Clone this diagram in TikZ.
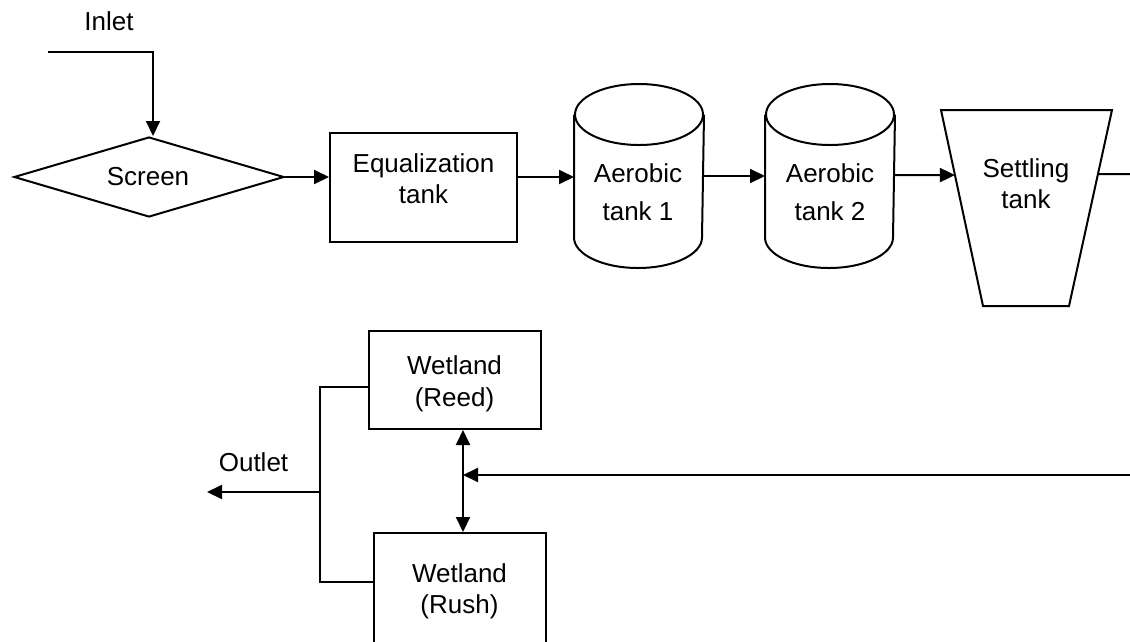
\documentclass[tikz,border=0pt]{standalone}
\usepackage{fontspec}
\setmainfont{Liberation Sans}
\usetikzlibrary{arrows.meta,calc,shapes.geometric}
\begin{document}
\begin{tikzpicture}[x=1pt,y=-1pt,
  line width=2pt,
  tip/.tip={Triangle[length=15pt,width=14pt]},
  flow/.style={-tip},
  both/.style={tip-tip},
  box/.style={draw, rectangle, inner sep=0pt},
  lbl/.style={anchor=base, inner sep=0pt, font=\fontsize{26}{31}\selectfont},
  ]
\path[use as bounding box, clip] (0,0) rectangle (1130,641);

% flow rows
\coordinate (rowA) at (0,177);
\coordinate (rowB) at (0,176);
\coordinate (rowC) at (0,175);

% inlet and screen
\node[lbl] (inlet) at (109,30) {Inlet};
\coordinate (feed) at (48,52);
\node[draw, diamond, aspect=3.4, inner sep=0pt, minimum width=270pt, minimum height=80pt] (scr) at (149,177) {};
\node[lbl] (scrt) at (148,185) {Screen};

% equalization tank
\node[box, minimum width=187pt, minimum height=109pt] (eq) at (423.5,187.5) {};
\node[lbl] (eq1) at (423.5,172) {Equalization};
\node[lbl] (eq2) at (423.5,203) {tank};

% aerobic tanks (cylinders)
\node[inner sep=0pt, minimum width=128pt, minimum height=182pt] (ae1) at (639,176) {};
\node[inner sep=0pt, minimum width=128pt, minimum height=182pt] (ae2) at (830,176) {};
\foreach \c in {ae1,ae2} {
  \draw ($(\c.north west)+(0,30.5)$) -- ($(\c.south west)-(0,30.5)$)
        arc[start angle=180, end angle=360, x radius=64pt, y radius=30.5pt]
        -- ($(\c.north east)+(0,30.5)$);
  \draw ($(\c.north)+(0,30.5)$) ellipse[x radius=64pt, y radius=30.5pt];
}
\node[lbl] (ae1a) at (638,182) {Aerobic};
\node[lbl] (ae1b) at (638,220) {tank 1};
\node[lbl] (ae2a) at (830,182) {Aerobic};
\node[lbl] (ae2b) at (830,220) {tank 2};

% settling tank (inverted trapezoid)
\coordinate (stTL) at (941,110);
\coordinate (stTR) at (1112,110);
\coordinate (stBR) at (1069,306);
\coordinate (stBL) at (983,306);
\draw (stTL) -- (stTR) -- (stBR) -- (stBL) -- cycle;
\coordinate (stIn) at ($(stTL)!0.332!(stBL)$);
\coordinate (stOut) at ($(stTR)!0.327!(stBR)$);
\node[lbl] (st1) at (1026,177) {Settling};
\node[lbl] (st2) at (1026,208) {tank};

% wetlands
\node[box, minimum width=172pt, minimum height=98pt] (reed) at (455,380) {};
\node[lbl] (reed1) at (454.5,374) {Wetland};
\node[lbl] (reed2) at (454.5,406) {(Reed)};
\node[box, minimum width=172pt, minimum height=130pt] (rush) at (460,598) {};
\node[lbl] (rush1) at (459.5,582) {Wetland};
\node[lbl] (rush2) at (459.5,613) {(Rush)};

% upper line connectors
\draw[flow] (feed) -| ([xshift=4pt]scr.north);
\draw[flow] (scr.east) -- (eq.west |- rowA);
\draw[flow] (eq.east |- rowA) -- (ae1.west |- rowA);
\draw[flow] (ae1.east |- rowB) -- (ae2.west |- rowB);
\draw[flow] (ae2.east |- rowC) -- (stIn);
\coordinate (toWet) at (1140,174);
\draw (stOut) -- (toWet);

% return to wetlands
\coordinate (retIn) at (1140,475);
\coordinate (split) at (463,475);
\draw[flow] (retIn) -- (split);
\draw[both] (reed.south -| split) -- (rush.north -| split);

% outlet collector
\coordinate (o1) at (320,387);
\coordinate (o2) at (320,582);
\coordinate (o3) at (320,492);
\coordinate (outEnd) at (207,492);
\draw (reed.west |- o1) -- (o1) -- (o2) -- (rush.west |- o2);
\draw[flow] (o3) -- (outEnd);
\node[lbl] (outlet) at (253.5,471) {Outlet};
\end{tikzpicture}
\end{document}
